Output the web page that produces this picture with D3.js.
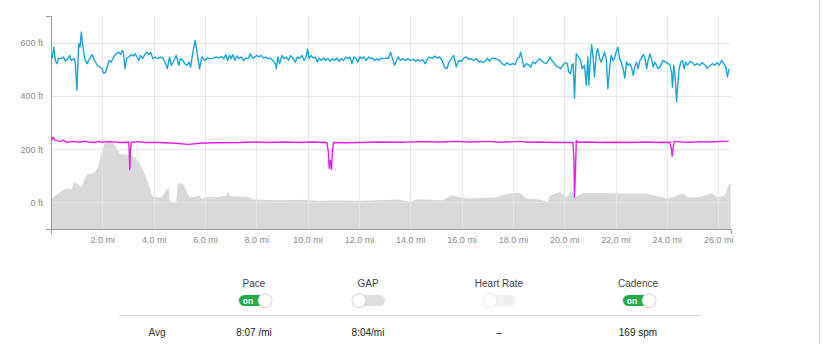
<!DOCTYPE html>
<html>
<head>
<meta charset="utf-8">
<script src="https://cdn.jsdelivr.net/npm/d3@7/dist/d3.min.js"></script>
<style>
  html, body { margin: 0; padding: 0; background: #fff; }
  svg { display: block; font-family: "Liberation Sans", Arial, Helvetica, sans-serif; }
</style>
</head>
<body>
<svg id="chart" width="822" height="344"></svg>
<script>
// ---------- DATA ----------
const xTicks = [2, 4, 6, 8, 10, 12, 14, 16, 18, 20, 22, 24, 26];
const yTicks = [0, 200, 400, 600];
const xDomain = [0, 26.5];
const yDomain = [-100, 700];

// elevation profile [mile, ft]
const elevation = [[0,12],[0.03,15],[0.27,33],[0.53,48],[0.66,52],[0.79,48],[0.92,76],[1.05,68],[1.18,57],[1.31,89],[1.44,108],[1.57,106],[1.70,111],[1.83,133],[1.96,183],[2.09,220],[2.15,226],[2.41,226],[2.54,208],[2.68,183],[2.81,180],[3.07,177],[3.26,170],[3.46,145],[3.65,108],[3.84,57],[3.97,20],[4.30,18],[4.49,45],[4.59,55],[4.62,14],[4.71,1],[4.88,1],[4.95,72],[5.14,70],[5.27,45],[5.40,20],[5.60,20],[5.79,26],[5.86,14],[6.12,20],[6.51,20],[6.82,26],[6.90,39],[7.02,23],[7.68,20],[7.87,11],[8.92,8],[9.60,10],[10.48,6],[11.20,8],[12.04,6],[12.90,9],[13.60,11],[13.99,1],[14.25,12],[15.27,8],[15.61,26],[15.94,19],[16.32,15],[17.36,19],[17.88,34],[18.27,36],[18.53,15],[19.05,11],[19.36,1],[19.44,26],[19.83,39],[20.09,19],[20.29,45],[20.41,19],[20.73,35],[21.65,35],[22.04,33],[23.21,33],[23.99,15],[24.23,19],[24.62,35],[24.82,19],[25.29,19],[25.74,35],[25.99,19],[26.26,26],[26.41,68],[26.49,71]];

// pace trace, plotted in chart units [mile, value]
const pace = [[0.04,540],[0.11,583],[0.17,533],[0.23,521],[0.30,542],[0.40,540],[0.49,546],[0.56,530],[0.66,540],[0.73,552],[0.79,533],[0.90,540],[0.95,521],[1.01,421],[1.08,596],[1.13,583],[1.18,640],[1.24,590],[1.31,540],[1.40,521],[1.51,540],[1.60,555],[1.70,533],[1.80,515],[1.90,508],[1.99,502],[2.05,486],[2.12,487],[2.19,508],[2.26,533],[2.35,527],[2.44,546],[2.54,558],[2.64,564],[2.72,555],[2.77,571],[2.82,564],[2.88,502],[2.95,542],[3.03,546],[3.13,555],[3.21,550],[3.28,558],[3.35,546],[3.42,533],[3.49,552],[3.57,540],[3.65,555],[3.73,564],[3.81,555],[3.88,564],[3.97,540],[4.06,546],[4.17,540],[4.27,546],[4.36,542],[4.46,523],[4.53,502],[4.62,546],[4.69,515],[4.78,530],[4.88,552],[4.98,515],[5.05,540],[5.14,533],[5.21,521],[5.30,515],[5.38,527],[5.44,508],[5.53,564],[5.62,608],[5.70,558],[5.79,502],[5.88,546],[5.99,533],[6.09,542],[6.21,540],[6.34,542],[6.44,546],[6.55,542],[6.63,548],[6.73,540],[6.81,555],[6.88,533],[6.96,552],[7.02,540],[7.09,555],[7.17,533],[7.25,550],[7.32,540],[7.41,546],[7.51,533],[7.59,542],[7.68,540],[7.77,558],[7.84,542],[7.94,546],[8.03,552],[8.10,546],[8.19,552],[8.29,542],[8.36,546],[8.45,540],[8.54,542],[8.65,533],[8.74,521],[8.78,502],[8.84,546],[8.91,521],[9.00,552],[9.08,540],[9.17,546],[9.26,533],[9.34,552],[9.43,540],[9.52,527],[9.60,546],[9.69,540],[9.78,552],[9.86,533],[9.94,546],[10.00,575],[10.06,540],[10.14,552],[10.22,542],[10.30,546],[10.38,527],[10.45,542],[10.53,533],[10.62,542],[10.70,533],[10.79,540],[10.88,530],[10.96,540],[11.05,533],[11.14,542],[11.23,530],[11.31,540],[11.40,533],[11.49,546],[11.57,540],[11.65,546],[11.73,521],[11.80,546],[11.89,540],[11.96,527],[12.04,546],[12.12,540],[12.19,546],[12.28,533],[12.38,546],[12.46,540],[12.53,542],[12.61,533],[12.69,540],[12.77,533],[12.87,542],[12.97,540],[13.06,542],[13.16,542],[13.23,564],[13.31,540],[13.39,515],[13.52,546],[13.61,533],[13.71,540],[13.82,533],[13.91,540],[14.00,533],[14.11,537],[14.21,530],[14.30,536],[14.39,530],[14.49,536],[14.58,521],[14.68,540],[14.75,546],[14.86,540],[14.95,550],[15.04,542],[15.14,546],[15.24,533],[15.34,508],[15.43,502],[15.51,527],[15.60,540],[15.69,552],[15.74,533],[15.79,508],[15.88,533],[15.99,530],[16.08,542],[16.18,546],[16.29,537],[16.37,540],[16.47,533],[16.57,540],[16.68,527],[16.76,530],[16.86,525],[16.94,533],[17.01,542],[17.09,530],[17.17,540],[17.27,542],[17.38,537],[17.48,533],[17.58,521],[17.68,515],[17.77,525],[17.87,517],[18.00,521],[18.09,517],[18.17,540],[18.26,546],[18.30,564],[18.36,540],[18.43,508],[18.52,521],[18.61,517],[18.69,508],[18.78,527],[18.87,521],[18.97,533],[19.05,540],[19.13,530],[19.21,525],[19.30,521],[19.39,533],[19.45,546],[19.52,533],[19.60,525],[19.69,512],[19.78,508],[19.86,502],[19.95,515],[20.04,525],[20.12,521],[20.18,489],[20.25,483],[20.30,515],[20.35,521],[20.40,390],[20.47,558],[20.56,546],[20.64,533],[20.70,502],[20.79,515],[20.86,440],[20.92,546],[20.96,440],[21.01,527],[21.07,592],[21.13,540],[21.18,471],[21.25,558],[21.31,577],[21.38,540],[21.44,527],[21.51,546],[21.57,564],[21.64,540],[21.70,427],[21.77,502],[21.83,552],[21.90,533],[21.96,540],[22.02,564],[22.09,583],[22.16,540],[22.22,527],[22.30,502],[22.36,467],[22.43,527],[22.49,515],[22.56,521],[22.62,508],[22.69,477],[22.75,508],[22.82,527],[22.88,502],[22.95,533],[23.01,540],[23.08,555],[23.14,546],[23.21,502],[23.27,533],[23.34,558],[23.40,540],[23.47,508],[23.53,527],[23.60,515],[23.66,502],[23.73,508],[23.79,521],[23.86,533],[23.96,527],[24.05,521],[24.12,517],[24.18,489],[24.22,433],[24.27,515],[24.32,477],[24.38,377],[24.43,446],[24.48,502],[24.54,527],[24.61,533],[24.67,502],[24.74,527],[24.81,515],[24.90,530],[25.00,525],[25.09,515],[25.18,521],[25.29,515],[25.37,525],[25.48,517],[25.57,504],[25.67,512],[25.78,521],[25.87,515],[25.96,525],[26.04,515],[26.13,533],[26.22,521],[26.30,508],[26.36,471],[26.43,502]];

// cadence trace, plotted in chart units [mile, value]
const cadence = [[0.02,233],[0.08,245],[0.16,233],[0.35,229],[0.47,234],[0.62,225],[0.82,229],[1.13,226],[1.30,230],[1.44,227],[1.71,225],[1.85,229],[1.99,226],[2.30,228],[2.69,225],[3.03,226],[3.05,195],[3.07,123],[3.10,195],[3.13,226],[3.40,228],[3.66,225],[4.25,225],[4.83,222],[5.34,218],[5.81,222],[6.39,224],[7.36,225],[7.90,227],[8.53,225],[9.10,227],[9.70,225],[10.20,227],[10.75,225],[10.81,188],[10.84,128],[10.89,158],[10.93,124],[10.97,195],[11.01,225],[11.50,224],[12.04,225],[12.80,227],[13.60,226],[14.40,228],[15.16,227],[15.80,229],[16.32,227],[17.00,229],[17.49,226],[18.27,229],[18.60,226],[19.05,227],[19.60,225],[20.22,225],[20.34,225],[20.38,158],[20.40,20],[20.44,120],[20.47,233],[20.53,226],[21.00,227],[21.39,225],[22.00,226],[22.56,225],[23.20,227],[23.70,225],[24.12,226],[24.17,203],[24.21,174],[24.24,203],[24.29,229],[24.60,227],[24.90,226],[25.30,228],[25.67,227],[26.10,229],[26.41,230]];

// legend / summary
const legendNames = ["Pace", "GAP", "Heart Rate", "Cadence"];
const legendOn = [true, false, false, true];
const legendEnabled = [true, true, false, true];
const avgValues = ["8:07 /mi", "8:04/mi", "–", "169 spm"];

// ---------- CHART ----------
const svg = d3.select("#chart");
const x = d3.scaleLinear().domain(xDomain).range([51, 731]);
const y = d3.scaleLinear().domain(yDomain).range([229, 16]);

// right page border
svg.append("line").attr("x1", 819.5).attr("x2", 819.5).attr("y1", 0).attr("y2", 344)
  .attr("stroke", "#cfcfcf").attr("stroke-width", 1);

// elevation area
svg.append("path").datum(elevation)
  .attr("fill", "#d9d9d9")
  .attr("d", d3.area().x(d => x(d[0])).y0(y(yDomain[0])).y1(d => y(d[1])));

// gridlines (over area)
const grid = svg.append("g").attr("stroke", "#e6e6e6").attr("stroke-width", 1).attr("opacity", 0.9);
grid.selectAll("line.v").data(xTicks).join("line")
  .attr("x1", d => Math.round(x(d)) + 0.5).attr("x2", d => Math.round(x(d)) + 0.5)
  .attr("y1", y(yDomain[1])).attr("y2", y(yDomain[0]));
grid.selectAll("line.h").data(yTicks).join("line")
  .attr("x1", x(xDomain[0])).attr("x2", x(xDomain[1]))
  .attr("y1", d => Math.round(y(d)) + 0.5).attr("y2", d => Math.round(y(d)) + 0.5);

// axes
const xAxis = svg.append("g").attr("transform", `translate(0,${Math.round(y(yDomain[0]))})`)
  .call(d3.axisBottom(x).tickValues(xTicks).tickSizeInner(0).tickSizeOuter(5).tickPadding(8)
    .tickFormat(d => d3.format(".1f")(d) + " mi"));
const yAxis = svg.append("g").attr("transform", `translate(${Math.round(x(0))},0)`)
  .call(d3.axisLeft(y).tickValues(yTicks).tickSizeInner(0).tickSizeOuter(5).tickPadding(8)
    .tickFormat(d => d + " ft"));
[xAxis, yAxis].forEach(a => {
  a.select(".domain").attr("stroke", "#9a9a9a");
  a.selectAll(".tick line").remove();
  a.selectAll("text").attr("fill", "#8a8a8a").attr("font-size", 9)
    .attr("font-family", "'Liberation Sans', Arial, sans-serif");
});

// series lines
const line = d3.line().x(d => x(d[0])).y(d => y(d[1]));
svg.append("path").datum(cadence).attr("fill", "none").attr("stroke", "#e41fe4")
  .attr("stroke-width", 1.4).attr("stroke-linejoin", "round").attr("d", line);
svg.append("path").datum(pace).attr("fill", "none").attr("stroke", "#1aa5da")
  .attr("stroke-width", 1.4).attr("stroke-linejoin", "round").attr("d", line);

// ---------- LEGEND / TOGGLES ----------
const colCenters = [254, 368, 499, 638];
const lg = svg.append("g");
legendNames.forEach((name, i) => {
  const cx = colCenters[i];
  lg.append("text").attr("x", cx).attr("y", 287).attr("text-anchor", "middle")
    .attr("font-size", 10).attr("fill", "#444").text(name);
  const w = 32, h = 11, tx = cx - w / 2 + 1, ty = 295;
  const g = lg.append("g").attr("opacity", legendEnabled[i] ? 1 : 0.45);
  g.append("rect").attr("x", tx).attr("y", ty).attr("width", w).attr("height", h).attr("rx", h / 2)
    .attr("fill", legendOn[i] ? "#22ab47" : "#dedede");
  if (legendOn[i]) {
    g.append("text").attr("x", tx + 9).attr("y", ty + 8.5).attr("text-anchor", "middle")
      .attr("font-size", 8.5).attr("font-weight", "bold").attr("fill", "#fff").text("on");
  }
  const kx = legendOn[i] ? tx + w - 6 : tx + 6;
  g.append("circle").attr("cx", kx).attr("cy", ty + h / 2 + 0.2).attr("r", 7)
    .attr("fill", "#fff").attr("stroke", "#c4c4c4").attr("stroke-width", 0.8);
});

// separator
svg.append("line").attr("x1", 119).attr("x2", 701).attr("y1", 315.5).attr("y2", 315.5)
  .attr("stroke", "#dddddd");

// avg row
svg.append("text").attr("x", 157).attr("y", 336).attr("text-anchor", "middle")
  .attr("font-size", 10).attr("fill", "#333").text("Avg");
avgValues.forEach((v, i) => {
  svg.append("text").attr("x", colCenters[i]).attr("y", 336).attr("text-anchor", "middle")
    .attr("font-size", 10).attr("fill", "#222").text(v);
});
</script>
</body>
</html>
